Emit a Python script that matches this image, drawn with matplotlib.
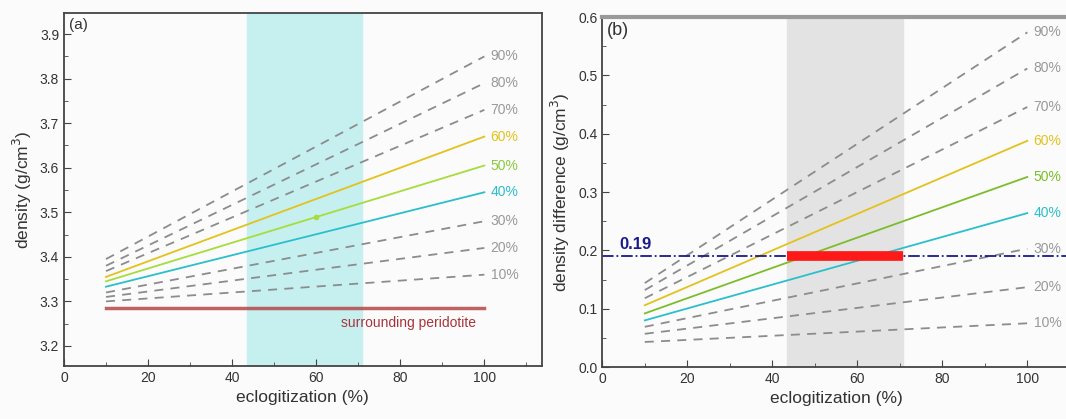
import matplotlib.pyplot as plt
from matplotlib.ticker import MultipleLocator

plt.rcParams['font.family'] = ['Liberation Sans', 'DejaVu Sans']

ecl = [10, 100]
labels = ['10%', '20%', '30%', '40%', '50%', '60%', '70%', '80%', '90%']

# panel (a): density at 10% and 100% eclogitization
dens = [[3.300, 3.360], [3.310, 3.420], [3.320, 3.480],
        [3.333, 3.545], [3.345, 3.605], [3.355, 3.670],
        [3.368, 3.730], [3.380, 3.790], [3.395, 3.850]]
peridotite = 3.285

# panel (b): density difference
ddiff = [[0.043, 0.075], [0.057, 0.137], [0.069, 0.203],
         [0.080, 0.264], [0.092, 0.326], [0.106, 0.388],
         [0.118, 0.446], [0.132, 0.512], [0.144, 0.574]]
threshold = 0.19
span = [43.5, 70.8]

gray = '#8c8c8c'
colors_a = [gray, gray, gray, '#2bbfcc', '#a6dc3c', '#e3c21c', gray, gray, gray]
colors_b = [gray, gray, gray, '#2bbfcc', '#7cbd2c', '#e3c21c', gray, gray, gray]
lab_a = ['#999999'] * 3 + ['#2bbfcc', '#8cc83c', '#e3c21c'] + ['#999999'] * 3
lab_b = ['#999999'] * 3 + ['#2bbfcc', '#7cbd2c', '#e3c21c'] + ['#999999'] * 3

fig = plt.figure(figsize=(10.66, 4.19), dpi=100)
fig.patch.set_facecolor('#fbfbfb')

ax1 = fig.add_axes([0.060, 0.1265, 0.448, 0.842])
ax2 = fig.add_axes([0.565, 0.124, 0.4386, 0.835])


def style(ax):
    ax.set_facecolor('#fbfbfb')
    for s in ax.spines.values():
        s.set_color('#444444')
        s.set_linewidth(1.3)
    ax.tick_params(which='both', direction='in', colors='#444444', labelsize=10, labelcolor='#333333')
    ax.tick_params(which='major', length=5)
    ax.tick_params(which='minor', length=3)
    ax.xaxis.set_major_locator(MultipleLocator(20))
    ax.xaxis.set_minor_locator(MultipleLocator(10))
    ax.set_xlabel('eclogitization (%)', fontsize=12.5, color='#333333')


# ---- (a)
style(ax1)
ax1.axvspan(span[0], span[1], color='#c6f0f0', zorder=0)
for i in range(9):
    ls = '-' if colors_a[i] != gray else (0, (5, 4))
    ax1.plot(ecl, dens[i], color=colors_a[i], ls=ls, lw=1.3)
    ax1.text(101.5, dens[i][1], labels[i], color=lab_a[i], fontsize=10, va='center', ha='left')
ax1.plot(60, dens[4][0] + (dens[4][1] - dens[4][0]) * 50 / 90, 'o', color='#a6dc3c', ms=3)
ax1.plot([10, 100], [peridotite, peridotite], color='#b5474a', lw=2.5, alpha=0.85)
ax1.text(98, 3.252, 'surrounding peridotite', color='#a8343a', fontsize=10, ha='right', va='center')
ax1.set_xlim(0, 113.6)
ax1.set_ylim(3.155, 3.947)
ax1.yaxis.set_major_locator(MultipleLocator(0.1))
ax1.yaxis.set_minor_locator(MultipleLocator(0.05))
ax1.set_ylabel('density (g/cm$^3$)', fontsize=12.5, color='#333333')
ax1.text(0.01, 0.985, '(a)', transform=ax1.transAxes, fontsize=11, va='top', ha='left', color='#333333')

# ---- (b)
style(ax2)
ax2.spines['top'].set_color('#999999')
ax2.spines['top'].set_linewidth(3)
ax2.axvspan(span[0], span[1], color='#e3e3e3', zorder=0)
for i in range(9):
    ls = '-' if colors_b[i] != gray else (0, (5, 4))
    ax2.plot(ecl, ddiff[i], color=colors_b[i], ls=ls, lw=1.3)
    ax2.text(101.5, ddiff[i][1], labels[i], color=lab_b[i], fontsize=10, va='center', ha='left')
ax2.axhline(threshold, color='#1a1a8c', ls='-.', lw=1.3)
ax2.plot(span, [threshold, threshold], color='#ff1a1a', lw=7, solid_capstyle='butt')
ax2.text(4, threshold + 0.007, '0.19', color='#1a1a8c', fontsize=12, fontweight='bold', ha='left', va='bottom')
ax2.set_xlim(0, 110)
ax2.set_ylim(0, 0.6)
ax2.yaxis.set_major_locator(MultipleLocator(0.1))
ax2.yaxis.set_minor_locator(MultipleLocator(0.05))
ax2.set_ylabel('density difference (g/cm$^3$)', fontsize=12.5, color='#333333')
ax2.text(0.01, 0.985, '(b)', transform=ax2.transAxes, fontsize=13, va='top', ha='left', color='#333333')

fig.savefig('out.png', dpi=100, facecolor=fig.get_facecolor())
